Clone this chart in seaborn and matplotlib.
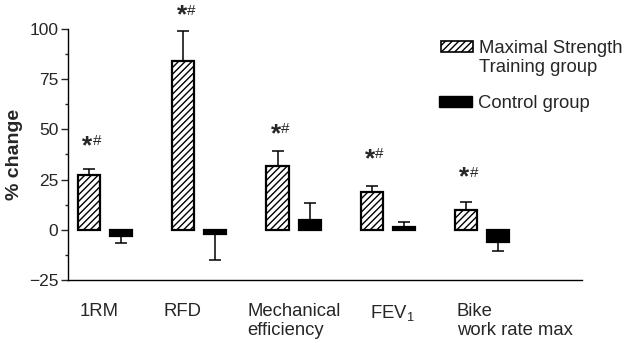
import matplotlib
matplotlib.use("Agg")
import matplotlib.pyplot as plt
import matplotlib.transforms as mtransforms
from matplotlib.patches import Patch
from matplotlib.ticker import MultipleLocator
import numpy as np
import pandas as pd
import seaborn as sns

# --- data ---
categories = ["1RM", "RFD", "Mechanical\nefficiency", "FEV$_\\mathregular{1}$", "Bike\nwork rate max"]
groups = ["Maximal Strength Training group", "Control group"]
mst_change = [27.5, 84, 32, 19, 10]
mst_err = [3, 15, 7, 3, 4]
ctrl_change = [-3, -2, 5, 1.5, -6]
ctrl_err = [3.5, 13, 8.5, 2.5, 4.5]
sig_marks = ["*#", "*#", "*#", "*#", "*#"]

# layout bits (not data)
sig_y = [44, 109, 50, 37.5, 28.5]
label_shift = [-0.27, -0.38, -0.49, -0.19, -0.27]

sns.set_theme(style="ticks")
plt.rcParams["font.family"] = ["Liberation Sans", "DejaVu Sans"]
plt.rcParams["mathtext.fontset"] = "custom"
plt.rcParams["mathtext.rm"] = "Liberation Sans"
plt.rcParams["hatch.linewidth"] = 1.0

df = pd.DataFrame({
    "metric": categories * 2,
    "group": [groups[0]] * 5 + [groups[1]] * 5,
    "value": mst_change + ctrl_change,
})

fig = plt.figure(figsize=(6.24, 3.43), dpi=100)
ax = fig.add_axes([0.109, 0.1837, 0.8237, 0.7318])

sns.barplot(data=df, x="metric", y="value", hue="group", hue_order=groups,
            order=categories, palette={groups[0]: "white", groups[1]: "black"},
            width=0.68, gap=0.31, errorbar=None, edgecolor="black",
            linewidth=1.6, saturation=1, legend=False, ax=ax)

bars = [p for p in ax.patches]
mst_bars = [p for p in bars if p.get_facecolor()[0] > 0.5]
ctrl_bars = [p for p in bars if p.get_facecolor()[0] <= 0.5]
mst_bars.sort(key=lambda p: p.get_x())
ctrl_bars.sort(key=lambda p: p.get_x())
for p in mst_bars:
    p.set_hatch("/////")

# one-sided error bars, in the direction of the change
for bar_set, vals, errs in [(mst_bars, mst_change, mst_err), (ctrl_bars, ctrl_change, ctrl_err)]:
    for p, v, e in zip(bar_set, vals, errs):
        xc = p.get_x() + p.get_width() / 2
        yerr = [[0], [e]] if v >= 0 else [[e], [0]]
        ax.errorbar([xc], [v], yerr=yerr, fmt="none", ecolor="black",
                    elinewidth=1.1, capsize=4.3, capthick=1.1, zorder=1)

# significance marks above training bars
for p, y, m in zip(mst_bars, sig_y, sig_marks):
    xc = p.get_x() + p.get_width() / 2
    ax.annotate(m[0], (xc, y), xytext=(2.5, -3.5), textcoords="offset points",
                ha="right", va="center", fontsize=19, fontweight="bold",
                annotation_clip=False)
    ax.annotate(m[1], (xc, y), xytext=(2.5, 0), textcoords="offset points",
                ha="left", va="center", fontsize=11, annotation_clip=False)

ax.set_ylim(-25, 100)
ax.set_xlim(-0.393, 5.06)
ax.yaxis.set_major_locator(MultipleLocator(25))
ax.yaxis.set_minor_locator(MultipleLocator(12.5))
ax.set_yticks([-25, 0, 25, 50, 75, 100])
ax.set_yticklabels(["\u221225", "0", "25", "50", "75", "100"])
ax.tick_params(axis="y", which="major", length=5, width=1, pad=2, labelsize=12.5, direction="out")
ax.tick_params(axis="y", which="minor", length=2.5, width=1, direction="out")
ax.tick_params(axis="x", which="both", length=0, labelbottom=False)
ax.set_xlabel("")
ax.set_ylabel("% change", fontsize=14, fontweight="bold", labelpad=4)
for s in ["top", "right"]:
    ax.spines[s].set_visible(False)
for s in ["left", "bottom"]:
    ax.spines[s].set_linewidth(1.0)
    ax.spines[s].set_color("black")

# category labels, left aligned under each group
trans = mtransforms.blended_transform_factory(ax.transData, ax.transAxes)
for i, (lab, dx) in enumerate(zip(categories, label_shift)):
    ax.text(i + dx, -0.09, lab, transform=trans, ha="left", va="top",
            fontsize=13.3, linespacing=1.15)

# legend
mst_h = Patch(facecolor="white", edgecolor="black", hatch="/////", linewidth=1.2)
blank_h = Patch(facecolor="none", edgecolor="none")
ctrl_h = Patch(facecolor="black", edgecolor="black")
leg1 = ax.legend([mst_h, blank_h], ["Maximal Strength", "Training group"],
                 loc="upper left", bbox_to_anchor=(441 / 624, 1 - 40 / 343),
                 bbox_transform=fig.transFigure, frameon=False, fontsize=13.3,
                 handlelength=1.75, handleheight=0.55, handletextpad=0.3,
                 labelspacing=0.1, borderpad=0, borderaxespad=0)
ax.add_artist(leg1)
ax.legend([ctrl_h], ["Control group"],
          loc="upper left", bbox_to_anchor=(439 / 624, 1 - 95 / 343),
          bbox_transform=fig.transFigure, frameon=False, fontsize=13.3,
          handlelength=1.8, handleheight=0.55, handletextpad=0.3,
          borderpad=0, borderaxespad=0)

fig.savefig("out.png", dpi=100)
